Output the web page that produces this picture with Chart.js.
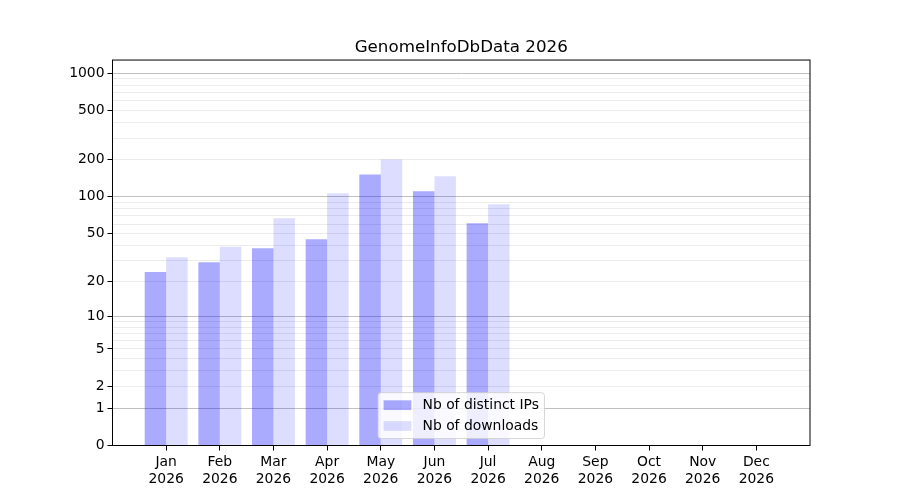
<!DOCTYPE html>
<html>
<head>
<meta charset="utf-8">
<script src="https://cdn.jsdelivr.net/npm/chart.js@4/dist/chart.umd.min.js"></script>
<style>
  html, body { margin: 0; padding: 0; background: #fff; }
  #wrap { width: 900px; height: 500px; position: relative; }
</style>
</head>
<body>
<div id="wrap"><canvas id="chart"></canvas></div>
<script>
const months = ["Jan","Feb","Mar","Apr","May","Jun","Jul","Aug","Sep","Oct","Nov","Dec"];
const year = "2026";
const distinctIPs = [24, 29, 38, 45, 152, 111, 61, 0, 0, 0, 0, 0];
const downloads   = [32, 39, 67, 107, 201, 147, 87, 0, 0, 0, 0, 0];
const yTickLabels = [0, 1, 2, 5, 10, 20, 50, 100, 200, 500, 1000];
const yMinorTicks = [3, 4, 6, 7, 8, 9, 30, 40, 60, 70, 80, 90, 300, 400, 600, 700, 800, 900];
const yMajorGrid  = [1, 10, 100, 1000];

const FONT = "'DejaVu Sans'";

// y axis scale like matplotlib's log(1+x)
class Log1pScale extends Chart.LinearScale {
    buildTicks() {
        return yTickLabels.concat(yMinorTicks)
            .sort((a, b) => a - b)
            .map(v => ({ value: v }));
    }
    configure() {
        super.configure();
        this._startValue = Math.log10(1 + this.min);
        this._valueRange = Math.log10(1 + this.max) - this._startValue;
    }
    getPixelForValue(value) {
        if (value === null || value === undefined || isNaN(value)) return NaN;
        return this.getPixelForDecimal((Math.log10(1 + value) - this._startValue) / this._valueRange);
    }
    getValueForPixel(pixel) {
        return Math.pow(10, this._startValue + this.getDecimalForPixel(pixel) * this._valueRange) - 1;
    }
}
Log1pScale.id = 'log1p';
Log1pScale.defaults = {};
Chart.register(Log1pScale);

const framePlugin = {
    id: 'frame',
    afterDatasetsDraw(chart) {
        const a = chart.chartArea, ctx = chart.ctx;
        ctx.save();
        ctx.strokeStyle = '#000';
        ctx.lineWidth = 1;
        ctx.strokeRect(a.left, a.top, a.right - a.left, a.bottom - a.top);
        ctx.restore();
    }
};

// legend inside the axes, lower center
const innerLegend = {
    id: 'innerLegend',
    afterDatasetsDraw(chart) {
        const a = chart.chartArea, ctx = chart.ctx;
        const fs = 13.9;
        const pad = 0.4 * fs, handleW = 2 * fs, handleH = 0.7 * fs, textPad = 0.8 * fs, gap = 0.5 * fs;
        ctx.save();
        ctx.font = fs + "px " + FONT;
        const sets = chart.data.datasets;
        let tw = 0;
        sets.forEach(d => { tw = Math.max(tw, ctx.measureText(d.label).width); });
        const w = 2 * pad + handleW + textPad + tw;
        const h = 2 * pad + sets.length * fs + (sets.length - 1) * gap;
        const x = (a.left + a.right) / 2 - w / 2;
        const y = a.bottom - 0.5 * fs - h;
        ctx.beginPath();
        ctx.roundRect(x, y, w, h, 3);
        ctx.fillStyle = 'rgba(255,255,255,0.8)';
        ctx.fill();
        ctx.strokeStyle = 'rgba(204,204,204,0.8)';
        ctx.lineWidth = 1;
        ctx.stroke();
        ctx.textBaseline = 'middle';
        sets.forEach((d, i) => {
            const cy = y + pad + fs / 2 + i * (fs + gap);
            ctx.fillStyle = d.backgroundColor;
            ctx.fillRect(x + pad, cy - handleH / 2, handleW, handleH);
            ctx.fillStyle = '#000';
            ctx.fillText(d.label, x + pad + handleW + textPad, cy);
        });
        ctx.restore();
    }
};

const data = {
    datasets: [{
        label: "Nb of distinct IPs",
        backgroundColor: "rgba(0,0,255,0.333)",
        borderWidth: 0,
        data: distinctIPs.map((v, i) => ({ x: i, y: v }))
    }, {
        label: "Nb of downloads",
        backgroundColor: "rgba(0,0,255,0.133)",
        borderWidth: 0,
        data: downloads.map((v, i) => ({ x: i, y: v }))
    }]
};

const options = {
    responsive: true,
    maintainAspectRatio: false,
    animation: false,
    layout: { padding: { left: 0, right: 90, top: 0, bottom: 0 } },
    datasets: {
        bar: { categoryPercentage: 0.8, barPercentage: 1.0 }
    },
    plugins: {
        legend: { display: false },
        tooltip: { enabled: false },
        title: {
            display: true,
            fullSize: false,
            text: "GenomeInfoDbData " + year,
            color: '#000',
            font: { family: FONT, size: 16.7, weight: 'normal' },
            padding: { top: 38, bottom: 2 }
        }
    },
    scales: {
        x: {
            type: 'linear',
            min: -1,
            max: 12,
            offset: false,
            afterBuildTicks: (s) => { s.ticks = months.map((m, i) => ({ value: i })); },
            afterFit: (s) => { s.height = 54.5; },
            border: { display: false },
            grid: {
                display: true,
                offset: false,
                drawOnChartArea: false,
                drawTicks: true,
                tickLength: 5,
                tickColor: '#000'
            },
            ticks: {
                autoSkip: false,
                maxRotation: 0,
                padding: 4,
                color: '#000',
                font: { family: FONT, size: 13.9 },
                callback: (v) => [months[v], year]
            }
        },
        y: {
            type: 'log1p',
            min: 0,
            max: 1280,
            afterFit: (s) => { s.width = 112.5; },
            border: { display: false },
            grid: {
                color: (c) => yMajorGrid.includes(c.tick.value) ? '#c0c0c0' : (c.tick.value === 0 ? 'rgba(0,0,0,0)' : '#ebebeb'),
                tickColor: (c) => yTickLabels.includes(c.tick.value) ? '#000' : 'rgba(0,0,0,0)',
                tickLength: 5,
                lineWidth: 1
            },
            ticks: {
                autoSkip: false,
                padding: 3,
                color: '#000',
                font: { family: FONT, size: 13.9 },
                callback: (v) => yTickLabels.includes(v) ? String(v) : ''
            }
        }
    }
};

const ctx = document.getElementById('chart').getContext('2d');
const chart = new Chart(ctx, {
    type: 'bar',
    data: data,
    options: options,
    plugins: [framePlugin, innerLegend]
});
</script>
</body>
</html>
